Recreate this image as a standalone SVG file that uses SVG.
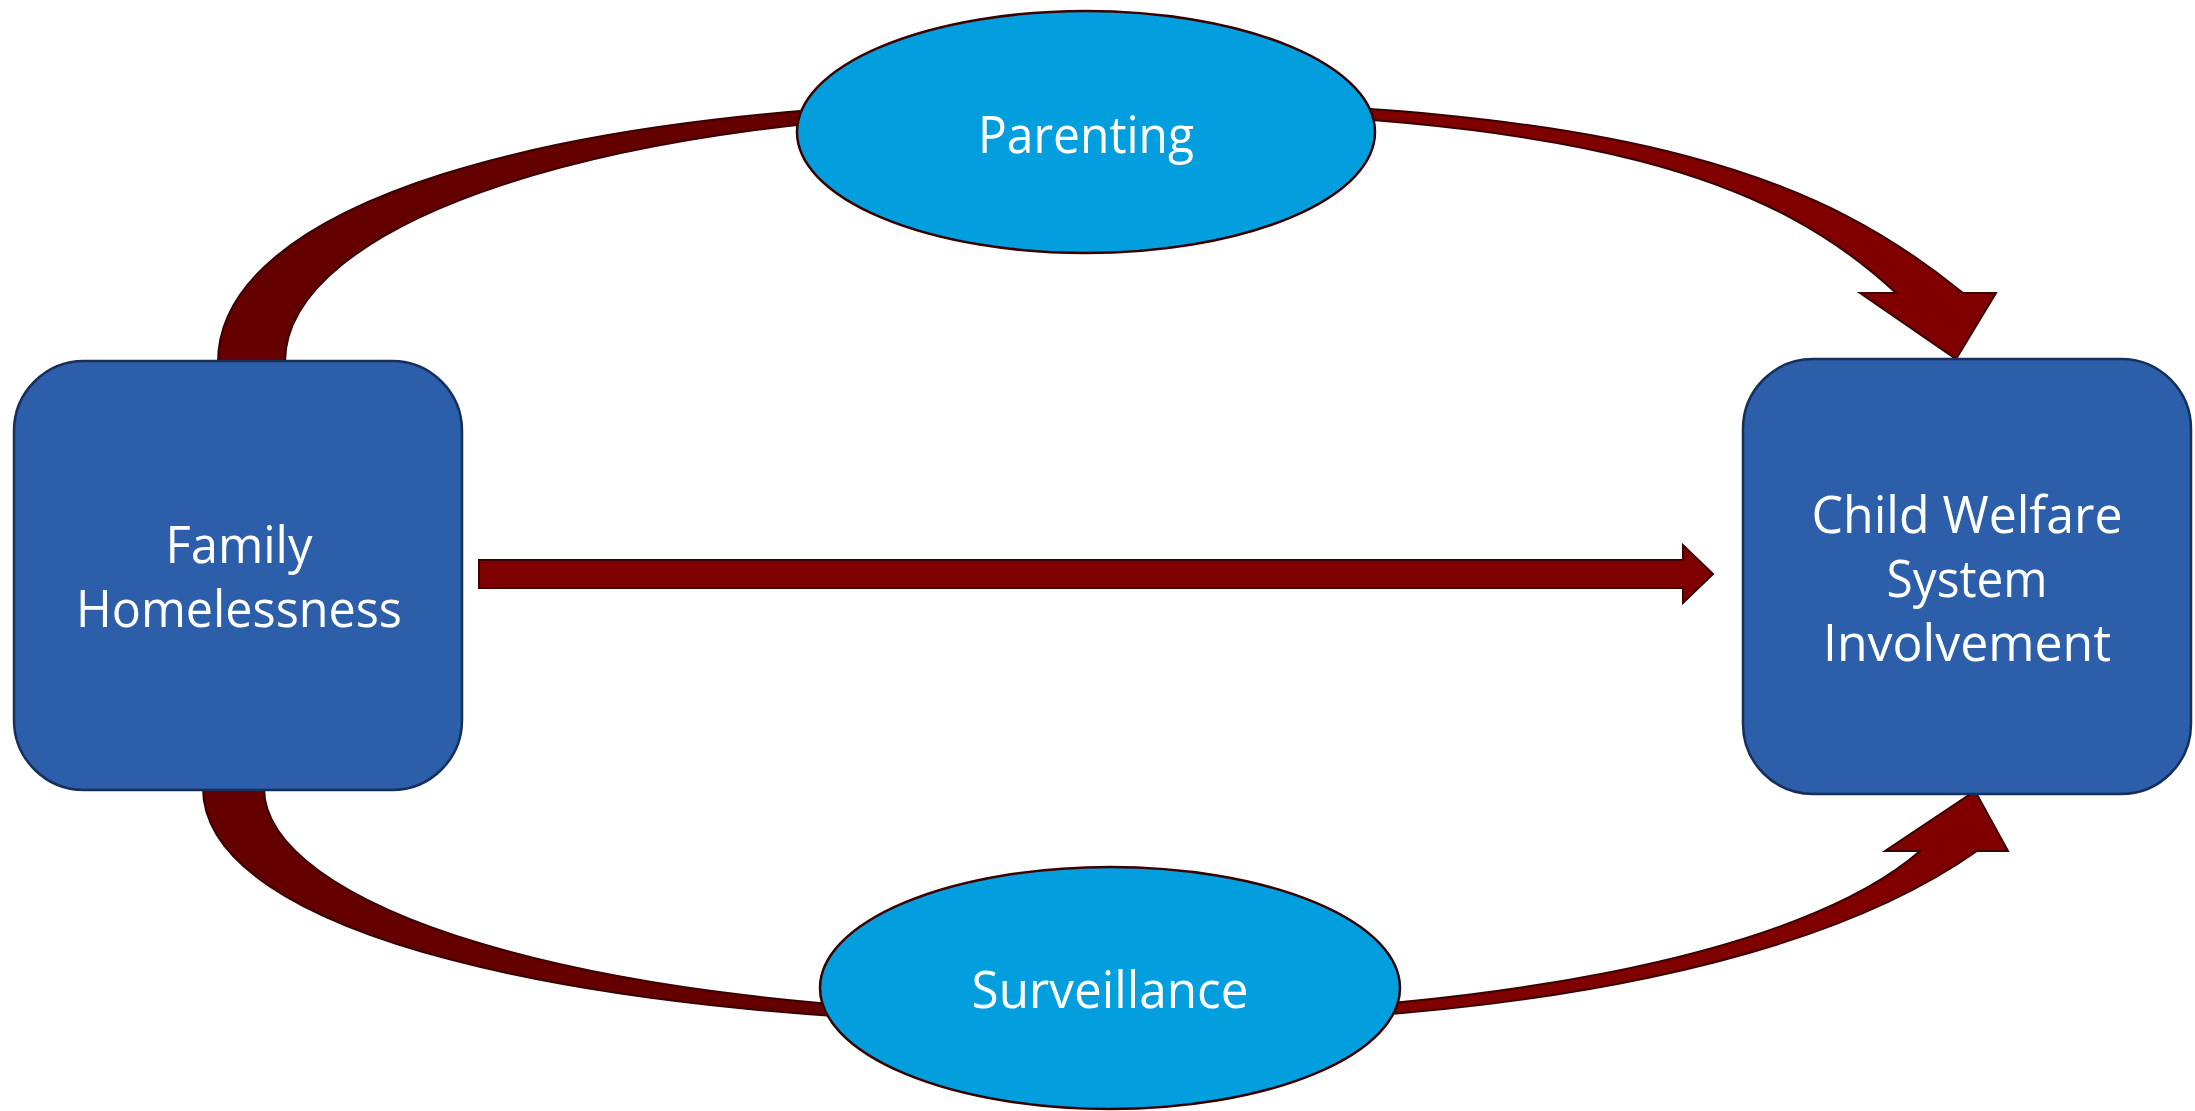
<svg xmlns="http://www.w3.org/2000/svg" width="2195" height="1111" viewBox="0 0 2195 1111">
  <style>
    .box { fill: #2c5ea9; stroke: #16305a; stroke-width: 2.5; }
    .oval { fill: #029ede; stroke: #3a0000; stroke-width: 2.5; }
    .arrow { stroke: #3a0000; stroke-width: 2; stroke-linejoin: miter; }
    .lbl { font-family: "Open Sans", "Noto Sans", "Liberation Sans", sans-serif; font-size: 52px; fill: #ffffff; text-anchor: middle; }
  </style>
  <defs>
    <linearGradient id="curveFill" gradientUnits="userSpaceOnUse" x1="200" y1="0" x2="2000" y2="0">
      <stop offset="0" stop-color="#640000"/>
      <stop offset="0.4" stop-color="#660000"/>
      <stop offset="0.6" stop-color="#800000"/>
      <stop offset="1" stop-color="#800000"/>
    </linearGradient>
  </defs>
  <rect x="0" y="0" width="2195" height="1111" fill="#ffffff"/>

  <g id="connectors">
    <path id="arrow-top" class="arrow" fill="url(#curveFill)" d="M 218 362 C 218 210, 530 100, 1085 100 C 1650 100, 1830 185, 1963 293 L 1996 293 L 1956 359 L 1860 293 L 1896 293 C 1780 185, 1600 110, 1085 110 C 600 110, 285 225, 285 362 Z"/>
    <path id="arrow-bottom" class="arrow" fill="url(#curveFill)" d="M 203 788 C 203 931, 566 1025, 1110 1025 C 1540 1025, 1827 957, 1977 851 L 2008 851 L 1975 791 L 1885 851 L 1920 851 C 1800 956, 1480 1015, 1110 1015 C 560 1015, 264 900, 264 788 Z"/>
    <path id="arrow-direct" class="arrow" fill="#7f0000" d="M 479 560 L 1683 560 L 1683 545 L 1713 574 L 1683 603 L 1683 588 L 479 588 Z"/>
  </g>

  <g id="node-family-homelessness">
    <rect class="box" x="14" y="361" width="448" height="429" rx="70" ry="70"/>
    <text class="lbl" x="239" y="563" textLength="147" lengthAdjust="spacingAndGlyphs">Family</text>
    <text class="lbl" x="239" y="627" textLength="326" lengthAdjust="spacingAndGlyphs">Homelessness</text>
  </g>

  <g id="node-child-welfare">
    <rect class="box" x="1743" y="359" width="448" height="435" rx="70" ry="70"/>
    <text class="lbl" x="1967" y="533" textLength="311" lengthAdjust="spacingAndGlyphs">Child Welfare</text>
    <text class="lbl" x="1967" y="597" textLength="161" lengthAdjust="spacingAndGlyphs">System</text>
    <text class="lbl" x="1967" y="661" textLength="288" lengthAdjust="spacingAndGlyphs">Involvement</text>
  </g>

  <g id="node-parenting">
    <ellipse class="oval" cx="1086" cy="132" rx="289" ry="121"/>
    <text class="lbl" x="1086" y="153" textLength="216" lengthAdjust="spacingAndGlyphs">Parenting</text>
  </g>

  <g id="node-surveillance">
    <ellipse class="oval" cx="1110" cy="988" rx="290" ry="121"/>
    <text class="lbl" x="1110" y="1008" textLength="277" lengthAdjust="spacingAndGlyphs">Surveillance</text>
  </g>
</svg>
